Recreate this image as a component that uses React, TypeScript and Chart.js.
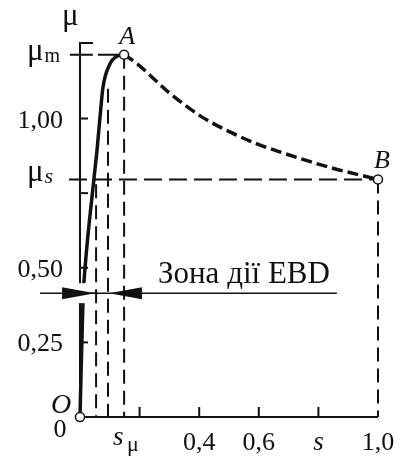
import React, { useEffect, useRef } from 'react';
import { Chart, registerables } from 'chart.js';

Chart.register(...registerables);

const FONT = "'Liberation Serif', 'DejaVu Serif', serif";
const INK = '#111111';

// Solid rising part O → A (slip s, friction coefficient μ)
const sRise = [0, 0.010, 0.017, 0.047, 0.057, 0.067, 0.077, 0.101, 0.121, 0.148];
const muRise = [0, 0.391, 0.50, 0.80, 0.893, 1.003, 1.104, 1.184, 1.207, 1.214];

// Dashed falling part A → B
const sFall = [0.148, 0.191, 0.302, 0.413, 0.503, 0.594, 0.671, 0.839, 1.0];
const muFall = [1.214, 1.184, 1.084, 1.003, 0.955, 0.915, 0.888, 0.836, 0.796];

// Characteristic values
const muM = 1.214;
const muS = 0.796;
const sMu = 0.148;
const sZoneA = 0.054;
const sZoneB = 0.094;
const muZoneArrow = 0.415;
const yMax = 1.253;

// Axis ticks
const yTickValues = [0.25, 0.5, 0.75, 1.0];
const yLabelValues = [0.25, 0.5, 1.0];
const yLabelTexts = ['0,25', '0,50', '1,00'];
const xTickValues = [0.2, 0.4, 0.6, 0.8];
const xLabelValues = [0.4, 0.6, 1.0];
const xLabelTexts = ['0,4', '0,6', '1,0'];

const zoneText = 'Зона дії EBD';

const toPts = (xs: number[], ys: number[]) => xs.map((x, i) => ({ x, y: ys[i] }));

export default function App() {
  const ref = useRef<HTMLCanvasElement>(null);

  useEffect(() => {
    const canvas = ref.current!;

    const decor = {
      id: 'decor',
      beforeDatasetsDraw(chart: any) {
        const { ctx, scales } = chart;
        const X = (v: number) => scales.x.getPixelForValue(v);
        const Y = (v: number) => scales.y.getPixelForValue(v);
        ctx.save();
        ctx.strokeStyle = INK;
        ctx.lineWidth = 2;
        ctx.lineCap = 'butt';
        ctx.beginPath();
        ctx.moveTo(X(0), Y(yMax));
        ctx.lineTo(X(0), Y(0));
        ctx.lineTo(X(1), Y(0));
        ctx.stroke();
        // top bracket
        ctx.beginPath();
        ctx.moveTo(X(0) - 1, Y(yMax));
        ctx.lineTo(X(0) + 13, Y(yMax));
        ctx.stroke();
        yTickValues.forEach((v) => {
          ctx.beginPath();
          ctx.moveTo(X(0), Y(v));
          ctx.lineTo(X(0) + 8, Y(v));
          ctx.stroke();
        });
        xTickValues.forEach((v) => {
          ctx.beginPath();
          ctx.moveTo(X(v), Y(0));
          ctx.lineTo(X(v), Y(0) - 10);
          ctx.stroke();
        });
        ctx.restore();
      },
      afterDatasetsDraw(chart: any) {
        const { ctx, scales } = chart;
        const X = (v: number) => scales.x.getPixelForValue(v);
        const Y = (v: number) => scales.y.getPixelForValue(v);
        ctx.save();
        const ay = Y(muZoneArrow);
        // white gap around left arrowhead
        ctx.fillStyle = '#ffffff';
        ctx.fillRect(X(0) - 6, ay - 10, 18, 20);
        // arrowheads
        ctx.fillStyle = INK;
        ctx.strokeStyle = INK;
        ctx.lineWidth = 1.5;
        ctx.beginPath();
        ctx.moveTo(X(0) - 18, ay);
        ctx.lineTo(X(sZoneA), ay);
        ctx.stroke();
        const tipL = X(sZoneA) - 1;
        ctx.beginPath();
        ctx.moveTo(tipL, ay);
        ctx.lineTo(tipL - 33, ay - 6);
        ctx.lineTo(tipL - 33, ay + 6);
        ctx.closePath();
        ctx.fill();
        const tipR = X(sZoneB) + 1;
        ctx.beginPath();
        ctx.moveTo(tipR, ay);
        ctx.lineTo(tipR + 33, ay - 6);
        ctx.lineTo(tipR + 33, ay + 6);
        ctx.closePath();
        ctx.fill();

        // labels
        ctx.fillStyle = INK;
        ctx.textBaseline = 'alphabetic';
        ctx.font = `26px ${FONT}`;
        ctx.textAlign = 'right';
        yLabelValues.forEach((v, i) => ctx.fillText(yLabelTexts[i], 63, Y(v) + 9));
        ctx.textAlign = 'center';
        xLabelValues.forEach((v, i) => ctx.fillText(xLabelTexts[i], X(v), Y(0) + 33));
        ctx.fillText('0', 60, Y(0) + 20);
        // μ axis title
        ctx.textAlign = 'left';
        ctx.font = `31px ${FONT}`;
        ctx.fillText('μ', 62, 25);
        // μm
        const muW = ctx.measureText('μ').width;
        ctx.fillText('μ', 27, Y(muM) + 5.5);
        ctx.font = `20px ${FONT}`;
        ctx.fillText('m', 27 + muW + 1, Y(muM) + 7.5);
        // μs
        ctx.font = `31px ${FONT}`;
        ctx.fillText('μ', 27, Y(muS) + 1.5);
        ctx.font = `italic 22px ${FONT}`;
        ctx.fillText('s', 27 + muW + 1, Y(muS) + 4);
        // s_μ
        ctx.font = `italic 27px ${FONT}`;
        ctx.fillText('s', X(sMu) - 11, Y(0) + 28);
        ctx.font = `22px ${FONT}`;
        ctx.fillText('μ', X(sMu) + 3, Y(0) + 34);
        // s axis title
        ctx.font = `italic 27px ${FONT}`;
        ctx.textAlign = 'center';
        ctx.fillText('s', X(0.8), Y(0) + 33);
        // point letters
        ctx.font = `italic 26px ${FONT}`;
        ctx.fillText('A', X(sMu) + 3, Y(muM) - 11);
        ctx.fillText('B', X(1) + 4, Y(muS) - 11);
        ctx.font = `italic 28px ${FONT}`;
        ctx.fillText('O', 61, Y(0) - 4);
        // zone text
        ctx.font = `31px ${FONT}`;
        ctx.textAlign = 'left';
        ctx.fillText(zoneText, 158, ay - 10);
        ctx.restore();
      },
    };

    const refLine = (pts: { x: number; y: number }[], dash: number[]) => ({
      data: pts,
      borderColor: INK,
      borderWidth: 2,
      borderDash: dash,
      pointRadius: 0,
      fill: false,
      tension: 0,
      clip: false as any,
    });

    const chart = new Chart(canvas, {
      type: 'line',
      data: {
        datasets: [
          {
            data: [
              { x: 0, y: 0 },
              { x: sMu, y: muM },
              { x: 1, y: muS },
            ],
            showLine: false,
            pointRadius: 4.5,
            pointBackgroundColor: '#ffffff',
            pointBorderColor: INK,
            pointBorderWidth: 1.5,
            clip: false as any,
          },
          {
            data: toPts(sRise, muRise),
            borderColor: INK,
            borderWidth: 3.5,
            pointRadius: 0,
            cubicInterpolationMode: 'monotone',
            fill: false,
            clip: false as any,
          },
          {
            data: toPts(sFall, muFall),
            borderColor: INK,
            borderWidth: 3.5,
            borderDash: [11, 5],
            pointRadius: 0,
            cubicInterpolationMode: 'monotone',
            fill: false,
            clip: false as any,
          },
          {
            data: [
              { x: -0.134, y: muZoneArrow },
              { x: 0.862, y: muZoneArrow },
            ],
            borderColor: INK,
            borderWidth: 1.5,
            pointRadius: 0,
            fill: false,
            clip: false as any,
          },
          refLine([{ x: -0.034, y: muM }, { x: sMu, y: muM }], [23, 5, 40]),
          refLine([{ x: -0.037, y: muS }, { x: 1, y: muS }], [18, 7]),
          refLine([{ x: sMu, y: muM }, { x: sMu, y: 0 }], [14, 7]),
          refLine([{ x: sZoneB, y: 1.10 }, { x: sZoneB, y: 0 }], [14, 7]),
          refLine([{ x: sZoneA, y: 0.78 }, { x: sZoneA, y: 0 }], [14, 7]),
          refLine([{ x: 1, y: muS }, { x: 1, y: 0 }], [14, 7]),
        ] as any,
      },
      options: {
        responsive: false,
        animation: false,
        devicePixelRatio: 1,
        layout: { padding: { left: 80, right: 18, top: 43, bottom: 42 } },
        scales: {
          x: { type: 'linear', min: 0, max: 1, display: false },
          y: { type: 'linear', min: 0, max: yMax, display: false },
        },
        plugins: {
          legend: { display: false },
          tooltip: { enabled: false },
        },
        events: [],
      },
      plugins: [decor],
    });

    return () => chart.destroy();
  }, []);

  return (
    <div style={{ position: 'absolute', left: 0, top: 0, width: 396, height: 459, background: '#ffffff' }}>
      <canvas ref={ref} width={396} height={459} style={{ display: 'block', width: 396, height: 459 }} />
    </div>
  );
}
